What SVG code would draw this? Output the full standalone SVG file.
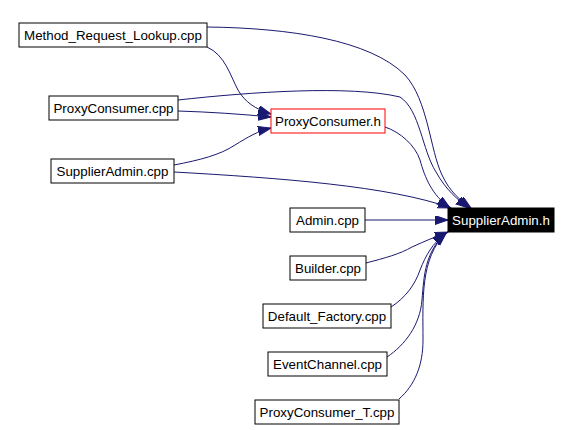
<svg xmlns="http://www.w3.org/2000/svg" width="571" height="430" viewBox="0 0 571 430">
<style>
.node rect{fill:#ffffff;stroke:#000000;stroke-width:1}
.node text{font-family:"Liberation Sans",Arial,sans-serif;font-size:13.33px;fill:#000000;text-anchor:middle}
#n_pch rect{stroke:#ff0000}
#n_sah rect{fill:#000000;stroke:#000000}
#n_sah text{fill:#ffffff}
.edges path{fill:none;stroke:#191970;stroke-width:1;marker-end:url(#arr)}
</style>
<defs>
<marker id="arr" markerUnits="userSpaceOnUse" markerWidth="14" markerHeight="10" refX="13" refY="4.5" orient="auto" viewBox="0 0 14 10">
<path d="M0,0 L13,4.5 L0,9 z" fill="#191970" stroke="#191970" stroke-width="1"/>
</marker>
</defs>
<rect x="0" y="0" width="571" height="430" fill="#ffffff"/>
<g class="edges" id="edges">
<path d="M207,27 C290,28 370,40 405,75 C428,100 430,150 442,175 C450,192 460,200 471,208"/>
<path d="M178,100 C250,92 350,85 400,97 C420,110 422,150 436,172 C446,190 458,200 469,208"/>
<path d="M207,47 C225,55 230,75 238,90 C245,102 255,109 271,114"/>
<path d="M178,111 C210,112 240,114 271,117"/>
<path d="M174,165 C200,160 220,155 235,145 C248,137 258,131 271,128"/>
<path d="M174,172 C280,178 390,186 451,208"/>
<path d="M385,127 C400,132 415,145 420,160 C425,178 432,195 450,208"/>
<path d="M365,220 L448,220"/>
<path d="M366,263 C385,258 400,254 412,247 C425,241 435,237 448,232"/>
<path d="M391,307 C405,298 415,285 420,270 C426,255 432,244 446,233"/>
<path d="M387,357 C405,345 420,325 422,300 C424,275 425,252 446,233"/>
<path d="M399,399 C415,385 423,365 423,340 C423,300 420,258 446,233"/>
</g>
<g class="node" id="n_mrl"><rect x="19" y="23" width="188" height="24"/><text x="113" y="40">Method_Request_Lookup.cpp</text></g>
<g class="node" id="n_pccpp"><rect x="49" y="96" width="129" height="24"/><text x="113.5" y="113">ProxyConsumer.cpp</text></g>
<g class="node" id="n_sacpp"><rect x="51" y="159" width="123" height="24"/><text x="112.5" y="176">SupplierAdmin.cpp</text></g>
<g class="node" id="n_pch"><rect x="271" y="109" width="114" height="24"/><text x="328" y="126">ProxyConsumer.h</text></g>
<g class="node" id="n_sah"><rect x="448" y="208" width="106" height="24"/><text x="501" y="225">SupplierAdmin.h</text></g>
<g class="node" id="n_admin"><rect x="290" y="208" width="75" height="24"/><text x="327.5" y="225">Admin.cpp</text></g>
<g class="node" id="n_builder"><rect x="290" y="256" width="76" height="24"/><text x="328" y="273">Builder.cpp</text></g>
<g class="node" id="n_df"><rect x="263" y="304" width="128" height="24"/><text x="327" y="321">Default_Factory.cpp</text></g>
<g class="node" id="n_ec"><rect x="268" y="352" width="119" height="24"/><text x="327.5" y="369">EventChannel.cpp</text></g>
<g class="node" id="n_pct"><rect x="255" y="400" width="144" height="24"/><text x="327" y="417">ProxyConsumer_T.cpp</text></g>
</svg>
